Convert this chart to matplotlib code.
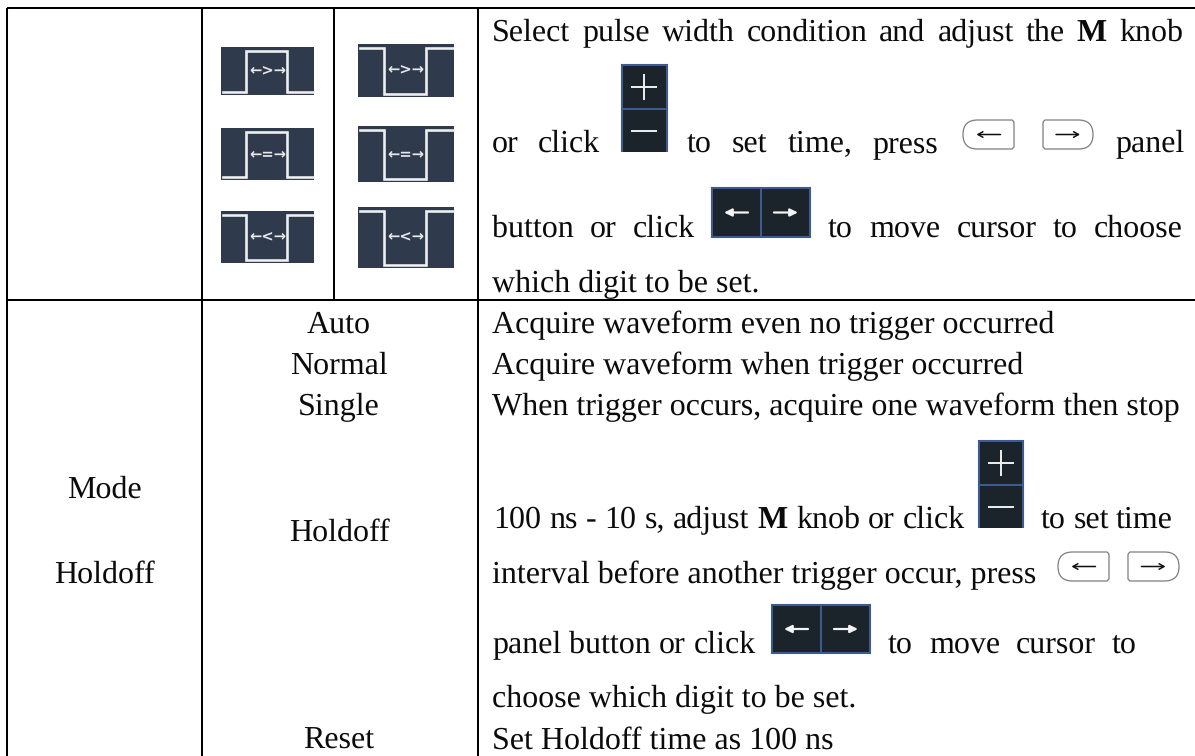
import matplotlib
matplotlib.use("Agg")
import matplotlib.pyplot as plt
from matplotlib.patches import Rectangle, PathPatch
from matplotlib.path import Path

W, H = 1195, 756
FONT = "Liberation Serif"
FS = 23.0
BLACK = "#0b0b0b"

# ---- table content -------------------------------------------------
left_labels = [("Mode", 498), ("Holdoff", 583)]
middle_labels = [("Auto", 333), ("Normal", 374), ("Single", 415), ("Holdoff", 541), ("Reset", 749)]
plain_lines = [
    ("Acquire waveform even no trigger occurred", 333),
    ("Acquire waveform when trigger occurred", 374),
    ("When trigger occurs, acquire one waveform then stop", 415),
    ("interval before another trigger occur, press", 583),
    ("choose which digit to be set.", 707),
    ("which digit to be set.", 292),
    ("Set Holdoff time as 100 ns", 749),
]
justified_lines = [
    ("Select pulse width condition and adjust the M knob", 492, 1183, 41),
    ("or click", 492, 600, 152),
    ("to set time, press", 687, 938, 152),
    ("panel", 1115, 1183, 152),
    ("button or click", 492, 695, 237),
    ("to move cursor to choose", 828, 1183, 237),
    ("panel button or click", 492, 756, 653),
    ("to move cursor to", 888, 1137, 653),
    ("100 ns - 10 s, adjust M knob or click", 493, 965, 528),
    ("to set time", 1041, 1173, 528),
]
pulse_marks = [">", "=", "<"]
pulse_left = [(221, 314, 47, 95, "up"), (221, 314, 128, 180, "up"), (221, 314, 211, 263, "down")]
pulse_right = [(358, 454, 44, 97, "down"), (358, 454, 126, 182, "down"), (358, 454, 207, 268, "down")]
plusminus_icons = [(621, 668, 64, 152), (978, 1024, 440, 528)]
arrow_icons = [(712, 810, 188, 237), (772, 870, 605, 653)]
key_pairs = [(963, 1014, 1043, 1093, 120, 149), (1058, 1109, 1128, 1179, 552, 581)]

grid_v = [(7, 8, 756), (202, 8, 756), (334, 8, 299), (478, 8, 756)]
grid_h = [(7, 1195, 8), (7, 1195, 299.5)]

plt.rcParams["text.hinting"] = "none"
fig = plt.figure(figsize=(W / 100, H / 100), dpi=100, facecolor="white")
ax = fig.add_axes([0, 0, 1, 1])
ax.set_xlim(0, W)
ax.set_ylim(H, 0)
ax.axis("off")
renderer = fig.canvas.get_renderer()


def word(x, y, s, bold=False, ha="left"):
    return ax.text(x, y, s, family=FONT, fontsize=FS, color=BLACK, ha=ha, va="baseline",
                   fontweight="bold" if bold else "normal")


def justified(s, x0, x1, y):
    toks = s.split(" ")
    arts = [word(0, y, t, bold=(t == "M")) for t in toks]
    widths = [a.get_window_extent(renderer).width for a in arts]
    gap = (x1 - x0 - sum(widths)) / max(len(toks) - 1, 1)
    x = x0
    for a, w in zip(arts, widths):
        a.set_x(x)
        x += w + gap


for x, y0, y1 in grid_v:
    ax.plot([x, x], [y0, y1], color="black", lw=1.45, solid_capstyle="butt")
for x0, x1, y in grid_h:
    ax.plot([x0, x1], [y, y], color="black", lw=1.45, solid_capstyle="butt")

for s, y in left_labels:
    word(104, y, s, ha="center")
for s, y in middle_labels:
    word(339, y, s, ha="center")
for s, y in plain_lines:
    word(492, y, s)
for row in justified_lines:
    justified(*row)

# ---- pulse icons ---------------------------------------------------
def pulse(x0, x1, y0, y1, kind, mark):
    ax.add_patch(Rectangle((x0, y0), x1 - x0, y1 - y0, fc="#2f3a4c", ec="none"))
    w = x1 - x0
    xa, xb = x0 + 0.27 * w, x0 + 0.71 * w
    top, bot = y0 + 3.5, y1 - 3.5
    if kind == "up":
        ys = [bot, bot, top, top, bot, bot]
    else:
        ys = [top, top, bot, bot, top, top]
    ax.plot([x0 + 2, xa, xa, xb, xb, x1 - 1], ys, color="#eceef0", lw=1.9, solid_joinstyle="miter")
    ax.text((x0 + x1) / 2, (y0 + y1) / 2, "←" + mark + "→", family="DejaVu Sans",
            fontsize=10.6, color="#e6e8ea", ha="center", va="center", fontweight="bold")


for (x0, x1, y0, y1, k), m in zip(pulse_left, pulse_marks):
    pulse(x0, x1, y0, y1, k, m)
for (x0, x1, y0, y1, k), m in zip(pulse_right, pulse_marks):
    pulse(x0, x1, y0, y1, k, m)

BLUE, DARK = "#3f5a8e", "#1b232b"

# ---- plus / minus icons --------------------------------------------
for x0, x1, y0, y1 in plusminus_icons:
    ax.add_patch(Rectangle((x0, y0), x1 - x0, y1 - y0, fc=DARK, ec="none"))
    ym = (y0 + y1) / 2 + 1
    for xs, ys in [([x0 + 1, x0 + 1], [y0, y1]), ([x1 - 1, x1 - 1], [y0, y1]),
                   ([x0, x1], [y0 + 1, y0 + 1]), ([x0, x1], [ym, ym])]:
        ax.plot(xs, ys, color=BLUE, lw=1.5, solid_capstyle="butt")
    xc = (x0 + x1) / 2
    ax.plot([xc - 12, xc + 12], [y0 + 23, y0 + 23], color="#f0f0f0", lw=1.4)
    ax.plot([xc, xc], [y0 + 11, y0 + 35], color="#f0f0f0", lw=1.4)
    ax.plot([xc - 12, xc + 12], [y1 - 21, y1 - 21], color="#f0f0f0", lw=1.4)

# ---- arrow icons ---------------------------------------------------
for x0, x1, y0, y1 in arrow_icons:
    ax.add_patch(Rectangle((x0, y0), x1 - x0, y1 - y0, fc=DARK, ec=BLUE, lw=1.5))
    xm = (x0 + x1) / 2
    ym = (y0 + y1) / 2
    ax.plot([xm, xm], [y0, y1], color=BLUE, lw=1.5, solid_capstyle="butt")
    ax.annotate("", xy=(x0 + 12, ym), xytext=(x0 + 36, ym),
                arrowprops=dict(arrowstyle="-|>,head_width=0.22,head_length=0.45", color="#f4f4f4", lw=1.6, shrinkA=0, shrinkB=0))
    ax.annotate("", xy=(x1 - 12, ym), xytext=(x1 - 36, ym),
                arrowprops=dict(arrowstyle="-|>,head_width=0.22,head_length=0.45", color="#f4f4f4", lw=1.6, shrinkA=0, shrinkB=0))

# ---- panel keys ----------------------------------------------------
def key(x0, x1, y0, y1, side):
    r = (y1 - y0) / 2
    c = 2
    if side == "left":
        v = [(x1, y0 + c), (x1, y1 - c), (x1 - c, y1), (x0 + r, y1), (x0, y1), (x0, y0 + r), (x0, y0), (x0 + r, y0), (x1 - c, y0), (x1, y0 + c)]
    else:
        v = [(x0, y0 + c), (x0, y1 - c), (x0 + c, y1), (x1 - r, y1), (x1, y1), (x1, y0 + r), (x1, y0), (x1 - r, y0), (x0 + c, y0), (x0, y0 + c)]
    cd = [Path.MOVETO, Path.LINETO, Path.LINETO, Path.LINETO, Path.CURVE3, Path.CURVE3,
          Path.CURVE3, Path.CURVE3, Path.LINETO, Path.LINETO]
    ax.add_patch(PathPatch(Path(v, cd), fc="white", ec="#7d7d7d", lw=0.9))
    xm, ym = (x0 + x1) / 2, (y0 + y1) / 2
    s, e = (xm + 12, xm - 12) if side == "left" else (xm - 12, xm + 12)
    ax.annotate("", xy=(e, ym), xytext=(s, ym),
                arrowprops=dict(arrowstyle="->,head_width=0.2,head_length=0.35", color="#111111", lw=1.1, shrinkA=0, shrinkB=0))


for xa, xb, xc, xd, y0, y1 in key_pairs:
    key(xa, xb, y0, y1, "left")
    key(xc, xd, y0, y1, "right")

fig.savefig("out.png", dpi=100, facecolor="white")
